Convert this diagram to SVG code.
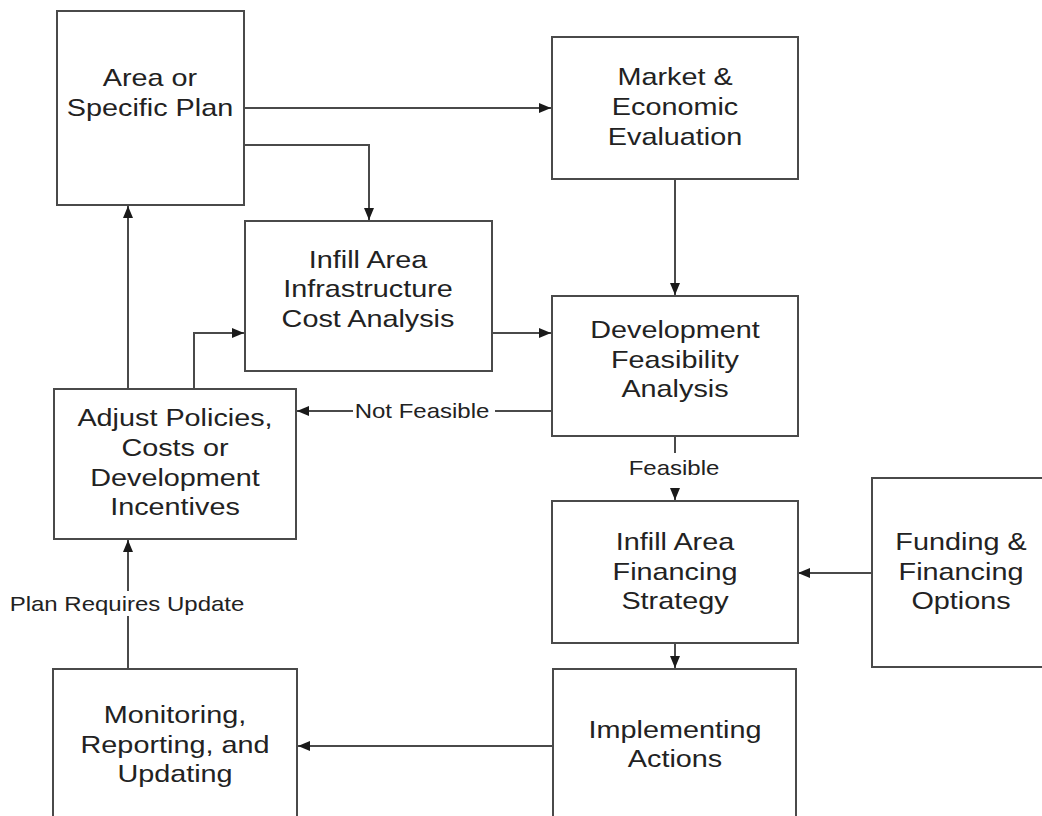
<svg xmlns="http://www.w3.org/2000/svg" width="1042" height="816" viewBox="0 0 1042 816">
<style>
.box{fill:#ffffff;stroke:#4a4a4a;stroke-width:2}
.t{font-family:"Liberation Sans",Arial,sans-serif;font-size:24px;fill:#222222;text-anchor:middle}
.l{font-family:"Liberation Sans",Arial,sans-serif;font-size:20px;fill:#222222;text-anchor:middle}
.c{fill:none;stroke:#4a4a4a;stroke-width:2}
</style>
<defs>
<marker id="ah" markerUnits="userSpaceOnUse" markerWidth="12" markerHeight="10" viewBox="0 0 12 10" refX="12" refY="5" orient="auto">
<path d="M0,0 L12,5 L0,10 Z" fill="#1a1a1a"/>
</marker>
</defs>
<rect width="1042" height="816" fill="#ffffff"/>
<g id="connectors">
<path class="c" d="M243,108 H551" marker-end="url(#ah)"/>
<path class="c" d="M238,145 H369 V220" marker-end="url(#ah)"/>
<path class="c" d="M675,179 V295" marker-end="url(#ah)"/>
<path class="c" d="M492,333 H551" marker-end="url(#ah)"/>
<path class="c" d="M194,389 V333 H244" marker-end="url(#ah)"/>
<path class="c" d="M128,389 V206" marker-end="url(#ah)"/>
<path class="c" d="M552,411 H495"/>
<path class="c" d="M353,411 H297" marker-end="url(#ah)"/>
<text class="l" transform="translate(422 0) scale(1.2 1)" x="0" y="418">Not Feasible</text>
<path class="c" d="M675,436 V453"/>
<path class="c" d="M675,489 V500" marker-end="url(#ah)"/>
<text class="l" transform="translate(674 0) scale(1.2 1)" x="0" y="475">Feasible</text>
<path class="c" d="M872,573 H798" marker-end="url(#ah)"/>
<path class="c" d="M675,643 V668" marker-end="url(#ah)"/>
<path class="c" d="M553,746 H298" marker-end="url(#ah)"/>
<path class="c" d="M128,669 V616"/>
<path class="c" d="M128,591 V540" marker-end="url(#ah)"/>
<text class="l" transform="translate(127 0) scale(1.2 1)" x="0" y="611">Plan Requires Update</text>
</g>
<g id="area-plan">
<rect class="box" x="57" y="11" width="187" height="194"/>
<text class="t" transform="translate(150 0) scale(1.2 1)"><tspan x="0" y="86">Area or</tspan><tspan x="0" y="116">Specific Plan</tspan></text>
</g>
<g id="market">
<rect class="box" x="552" y="37" width="246" height="142"/>
<text class="t" transform="translate(675 0) scale(1.2 1)"><tspan x="0" y="85">Market &amp;</tspan><tspan x="0" y="115">Economic</tspan><tspan x="0" y="145">Evaluation</tspan></text>
</g>
<g id="infrastructure">
<rect class="box" x="245" y="221" width="247" height="150"/>
<text class="t" transform="translate(368 0) scale(1.2 1)"><tspan x="0" y="268">Infill Area</tspan><tspan x="0" y="297">Infrastructure</tspan><tspan x="0" y="327">Cost Analysis</tspan></text>
</g>
<g id="feasibility">
<rect class="box" x="552" y="296" width="246" height="140"/>
<text class="t" transform="translate(675 0) scale(1.2 1)"><tspan x="0" y="338">Development</tspan><tspan x="0" y="368">Feasibility</tspan><tspan x="0" y="397">Analysis</tspan></text>
</g>
<g id="adjust">
<rect class="box" x="54" y="389" width="242" height="150"/>
<text class="t" transform="translate(175 0) scale(1.2 1)"><tspan x="0" y="426">Adjust Policies,</tspan><tspan x="0" y="456">Costs or</tspan><tspan x="0" y="486">Development</tspan><tspan x="0" y="515">Incentives</tspan></text>
</g>
<g id="financing">
<rect class="box" x="552" y="501" width="246" height="142"/>
<text class="t" transform="translate(675 0) scale(1.2 1)"><tspan x="0" y="550">Infill Area</tspan><tspan x="0" y="580">Financing</tspan><tspan x="0" y="609">Strategy</tspan></text>
</g>
<g id="funding">
<rect class="box" x="872" y="478" width="180" height="189"/>
<text class="t" transform="translate(961 0) scale(1.2 1)"><tspan x="0" y="550">Funding &amp;</tspan><tspan x="0" y="580">Financing</tspan><tspan x="0" y="609">Options</tspan></text>
</g>
<g id="monitoring">
<rect class="box" x="53" y="669" width="244" height="170"/>
<text class="t" transform="translate(175 0) scale(1.2 1)"><tspan x="0" y="723">Monitoring,</tspan><tspan x="0" y="753">Reporting, and</tspan><tspan x="0" y="782">Updating</tspan></text>
</g>
<g id="implementing">
<rect class="box" x="553" y="669" width="243" height="170"/>
<text class="t" transform="translate(675 0) scale(1.2 1)"><tspan x="0" y="738">Implementing</tspan><tspan x="0" y="767">Actions</tspan></text>
</g>
</svg>
